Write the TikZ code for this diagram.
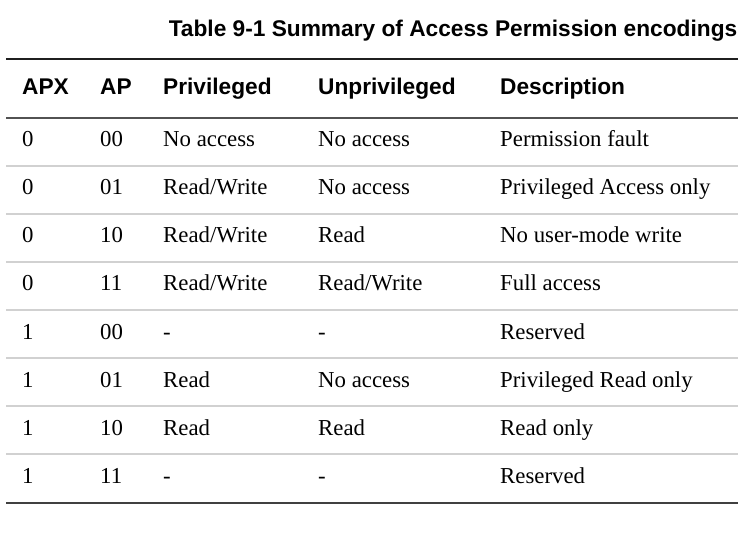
\documentclass[tikz,border=0pt]{standalone}
\usepackage{fontspec}
\setmainfont{Liberation Serif}
\newfontfamily\headfont{Liberation Sans}
\begin{document}
\begin{tikzpicture}[x=1pt,y=-1pt]

\def\rh{48}
\tikzstyle{cell} = [anchor=base west, inner sep=0pt,
	font=\fontsize{22.8}{26}\selectfont];
\tikzstyle{head} = [cell, font=\headfont\bfseries\fontsize{22.7}{26}\selectfont];
\tikzstyle{rule} = [line width=2pt];
\tikzstyle{sep} = [line width=1.8pt, black!18];
\useasboundingbox (0,0) rectangle (749,534);

\node[head, anchor=base east, font=\headfont\bfseries\fontsize{22.7}{26}\selectfont]
	(title) at (737.5,36.7) {Table 9-1 Summary of Access Permission encodings};

\draw[rule, black!88] (6,59.5) -- (738,59.5);

\node[head] (hx) at (22,94.3) {APX};
\node[head] (hap) at (100,94.3) {AP};
\node[head] (hpr) at (163,94.3) {Privileged};
\node[head] (hun) at (318,94.3) {Unprivileged};
\node[head] (hde) at (500,94.3) {Description};

\draw[rule, black!68] (6,117.7) -- (738,117.7);

\node[cell] (x1) at (22,147+0*\rh) {0};
\node[cell] (ap1) at (100,147+0*\rh) {00};
\node[cell] (pr1) at (163,147+0*\rh) {No access};
\node[cell] (un1) at (318,147+0*\rh) {No access};
\node[cell] (de1) at (500,147+0*\rh) {Permission fault};

\node[cell] (x2) at (22,147+1*\rh) {0};
\node[cell] (ap2) at (100,147+1*\rh) {01};
\node[cell] (pr2) at (163,147+1*\rh) {Read/Write};
\node[cell] (un2) at (318,147+1*\rh) {No access};
\node[cell] (de2) at (500,147+1*\rh) {Privileged Access only};

\node[cell] (x3) at (22,147+2*\rh) {0};
\node[cell] (ap3) at (100,147+2*\rh) {10};
\node[cell] (pr3) at (163,147+2*\rh) {Read/Write};
\node[cell] (un3) at (318,147+2*\rh) {Read};
\node[cell] (de3) at (500,147+2*\rh) {No user-mode write};

\node[cell] (x4) at (22,147+3*\rh) {0};
\node[cell] (ap4) at (100,147+3*\rh) {11};
\node[cell] (pr4) at (163,147+3*\rh) {Read/Write};
\node[cell] (un4) at (318,147+3*\rh) {Read/Write};
\node[cell] (de4) at (500,147+3*\rh) {Full access};

\node[cell] (x5) at (22,147+4*\rh) {1};
\node[cell] (ap5) at (100,147+4*\rh) {00};
\node[cell] (pr5) at (163,147+4*\rh) {-};
\node[cell] (un5) at (318,147+4*\rh) {-};
\node[cell] (de5) at (500,147+4*\rh) {Reserved};

\node[cell] (x6) at (22,147+5*\rh) {1};
\node[cell] (ap6) at (100,147+5*\rh) {01};
\node[cell] (pr6) at (163,147+5*\rh) {Read};
\node[cell] (un6) at (318,147+5*\rh) {No access};
\node[cell] (de6) at (500,147+5*\rh) {Privileged Read only};

\node[cell] (x7) at (22,147+6*\rh) {1};
\node[cell] (ap7) at (100,147+6*\rh) {10};
\node[cell] (pr7) at (163,147+6*\rh) {Read};
\node[cell] (un7) at (318,147+6*\rh) {Read};
\node[cell] (de7) at (500,147+6*\rh) {Read only};

\node[cell] (x8) at (22,147+7*\rh) {1};
\node[cell] (ap8) at (100,147+7*\rh) {11};
\node[cell] (pr8) at (163,147+7*\rh) {-};
\node[cell] (un8) at (318,147+7*\rh) {-};
\node[cell] (de8) at (500,147+7*\rh) {Reserved};

% row separators
\draw[sep] (6,166+0*\rh) -- (738,166+0*\rh);
\draw[sep] (6,166+1*\rh) -- (738,166+1*\rh);
\draw[sep] (6,166+2*\rh) -- (738,166+2*\rh);
\draw[sep] (6,166+3*\rh) -- (738,166+3*\rh);
\draw[sep] (6,166+4*\rh) -- (738,166+4*\rh);
\draw[sep] (6,166+5*\rh) -- (738,166+5*\rh);
\draw[sep] (6,166+6*\rh) -- (738,166+6*\rh);

\draw[rule, black!75] (6,502.7) -- (738,502.7);

\end{tikzpicture}
\end{document}
